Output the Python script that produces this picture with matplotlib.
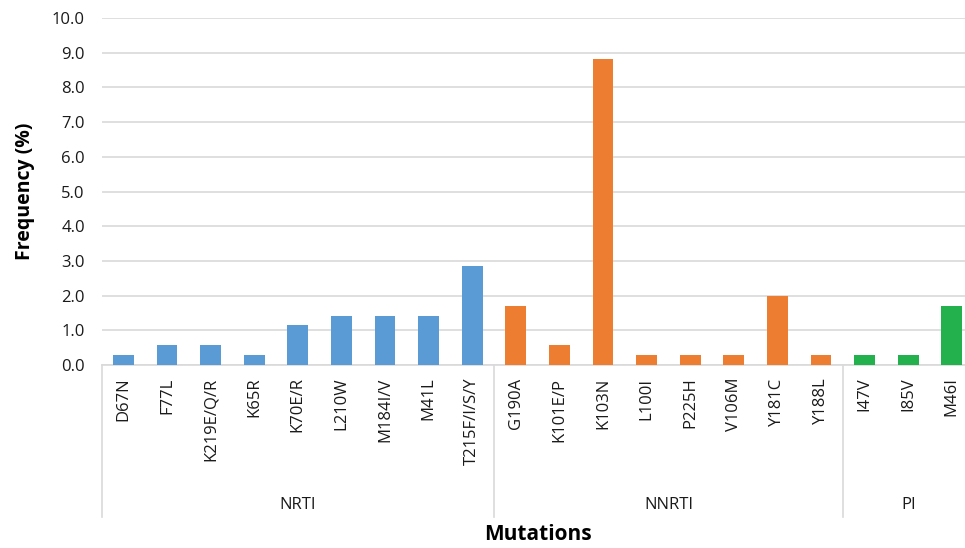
import numpy as np
import matplotlib.pyplot as plt
import matplotlib.transforms as mtransforms

plt.rcParams['font.family'] = ['Open Sans', 'DejaVu Sans']

# data
mutations = ['D67N', 'F77L', 'K219E/Q/R', 'K65R', 'K70E/R', 'L210W', 'M184I/V', 'M41L', 'T215F/I/S/Y',
             'G190A', 'K101E/P', 'K103N', 'L100I', 'P225H', 'V106M', 'Y181C', 'Y188L',
             'I47V', 'I85V', 'M46I']
frequency = [0.28, 0.57, 0.57, 0.28, 1.14, 1.42, 1.42, 1.42, 2.85,
             1.71, 0.57, 8.83, 0.28, 0.28, 0.28, 1.99, 0.28,
             0.28, 0.28, 1.71]
groups = ['NRTI', 'NNRTI', 'PI']
group_sizes = [9, 8, 3]
group_colors = {'NRTI': '#5B9BD5', 'NNRTI': '#ED7D31', 'PI': '#22B14C'}

grid_c = '#D9D9D9'
txt_c = '#1a1a1a'

fig = plt.figure(figsize=(9.65, 5.48), dpi=100)
ax = fig.add_axes((101.6 / 965, 183 / 548, 872 / 965, 347 / 548))

colors = []
for g, n in zip(groups, group_sizes):
    colors += [group_colors[g]] * n

x = np.arange(len(mutations))
ax.bar(x, frequency, 0.48, color=colors, zorder=3)

ax.set_xlim(-0.5, len(mutations) - 0.5)
ax.set_ylim(0, 10)
ax.set_yticks(np.arange(0, 10.1, 1.0))
ax.set_yticklabels(['{:.1f}'.format(v) for v in np.arange(0, 10.1, 1.0)], fontsize=12, color=txt_c)
ax.yaxis.grid(True, color=grid_c, lw=1.2, zorder=0)
ax.set_axisbelow(True)

ax.set_xticks(x)
ax.set_xticklabels(mutations, rotation=90, fontsize=12, color=txt_c, va='top')
ax.tick_params(axis='both', length=0)
ax.tick_params(axis='x', pad=9)
ax.tick_params(axis='y', pad=12)

for s in ['top', 'right', 'left']:
    ax.spines[s].set_visible(False)
ax.spines['bottom'].set_color(grid_c)
ax.spines['bottom'].set_linewidth(1.2)

# group separators and group labels below the axis
trans = mtransforms.blended_transform_factory(ax.transData, ax.transAxes)
bounds = np.concatenate([[0], np.cumsum(group_sizes)]) - 0.5
for b in bounds:
    ax.plot([b, b], [0, -0.438], color=grid_c, lw=1.2, transform=trans, clip_on=False)
for g, lo, hi in zip(groups, bounds[:-1], bounds[1:]):
    ax.text((lo + hi) / 2, -0.403, g, transform=trans, ha='center', va='center', fontsize=12, color=txt_c)

ax.set_ylabel('Frequency (%)', fontsize=14, fontweight='bold', color='black', labelpad=12)
fig.text(538 / 965, 1 - 535 / 548, 'Mutations', ha='center', va='center', fontsize=15, fontweight='bold')

plt.savefig('out.png', dpi=100)
plt.close()
